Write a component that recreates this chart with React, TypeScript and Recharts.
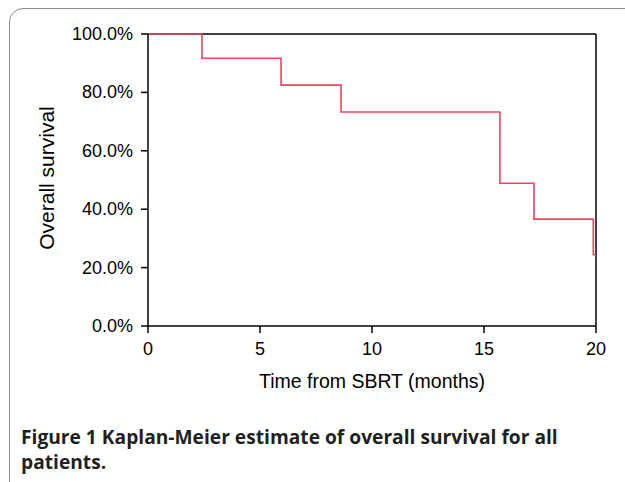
import { LineChart, Line, XAxis, YAxis, ReferenceLine, Label } from "recharts";

// Kaplan-Meier steps
const months = [0, 2.41, 5.94, 8.62, 15.71, 17.23, 19.88, 20];
const survival = [100, 91.7, 82.5, 73.3, 48.9, 36.6, 24.4, 24.4];
const xTicks = [0, 5, 10, 15, 20];
const yTicks = [0, 20, 40, 60, 80, 100];

const data = months.map((m, i) => ({ month: m, surv: survival[i] }));

const axisFont = "'Liberation Sans', Arial, sans-serif";

const XTick = (props: any) => {
  const { x, y, payload } = props;
  return (
    <g transform={`translate(${x},${y})`}>
      <text
        x={0}
        y={9}
        textAnchor="middle"
        dominantBaseline="hanging"
        fill="#000"
        fontSize={18}
        fontFamily={axisFont}
      >
        {payload.value}
      </text>
    </g>
  );
};

const YTick = (props: any) => {
  const { x, y, payload } = props;
  return (
    <g transform={`translate(${x},${y})`}>
      <text
        x={-8}
        y={0}
        textAnchor="end"
        dominantBaseline="central"
        fill="#000"
        fontSize={18}
        fontFamily={axisFont}
      >
        {`${Number(payload.value).toFixed(1)}%`}
      </text>
    </g>
  );
};

export default function App() {
  return (
    <div
      style={{
        position: "absolute",
        left: 0,
        top: 0,
        width: 625,
        height: 482,
        overflow: "hidden",
        background: "#fff",
      }}
    >
      <div
        style={{
          position: "absolute",
          left: 9,
          top: 8,
          width: 660,
          height: 520,
          border: "1.5px solid #8c8c8c",
          borderRadius: 14,
        }}
      />
      <div style={{ position: "absolute", left: 0, top: 0 }}>
        <LineChart
          width={625}
          height={400}
          data={data}
          margin={{ top: 34, right: 29, bottom: 0, left: 0 }}
        >
          <XAxis
            dataKey="month"
            type="number"
            domain={[0, 20]}
            ticks={xTicks}
            height={74}
            stroke="#000"
            strokeWidth={1.5}
            tickSize={7}
            tickMargin={0}
            tick={XTick}
          >
            <Label
              content={() => (
                <text
                  x={372}
                  y={381}
                  textAnchor="middle"
                  dominantBaseline="central"
                  fill="#000"
                  fontSize={19.5}
                  fontFamily={axisFont}
                >
                  Time from SBRT (months)
                </text>
              )}
            />
          </XAxis>
          <YAxis
            type="number"
            domain={[0, 100]}
            ticks={yTicks}
            width={148}
            stroke="#000"
            strokeWidth={1.5}
            tickSize={7}
            tickMargin={0}
            tick={YTick}
          >
            <Label
              content={() => (
                <text
                  x={46}
                  y={178}
                  transform="rotate(-90 46 178)"
                  textAnchor="middle"
                  dominantBaseline="central"
                  fill="#000"
                  fontSize={21}
                  fontFamily={axisFont}
                >
                  Overall survival
                </text>
              )}
            />
          </YAxis>
          <ReferenceLine y={100} stroke="#000" strokeWidth={1.5} />
          <ReferenceLine x={20} stroke="#000" strokeWidth={1.5} />
          <Line
            type="stepAfter"
            dataKey="surv"
            stroke="#ec4560"
            strokeWidth={1.6}
            dot={false}
            isAnimationActive={false}
          />
        </LineChart>
      </div>
      <div
        style={{
          position: "absolute",
          left: 21,
          top: 424,
          width: 600,
          fontFamily: "'Open Sans', sans-serif",
          fontWeight: 700,
          fontSize: 19.2,
          lineHeight: "25px",
          color: "#231f20",
          whiteSpace: "nowrap",
        }}
      >
        Figure 1 Kaplan-Meier estimate of overall survival for all
        <br />
        patients.
      </div>
    </div>
  );
}
